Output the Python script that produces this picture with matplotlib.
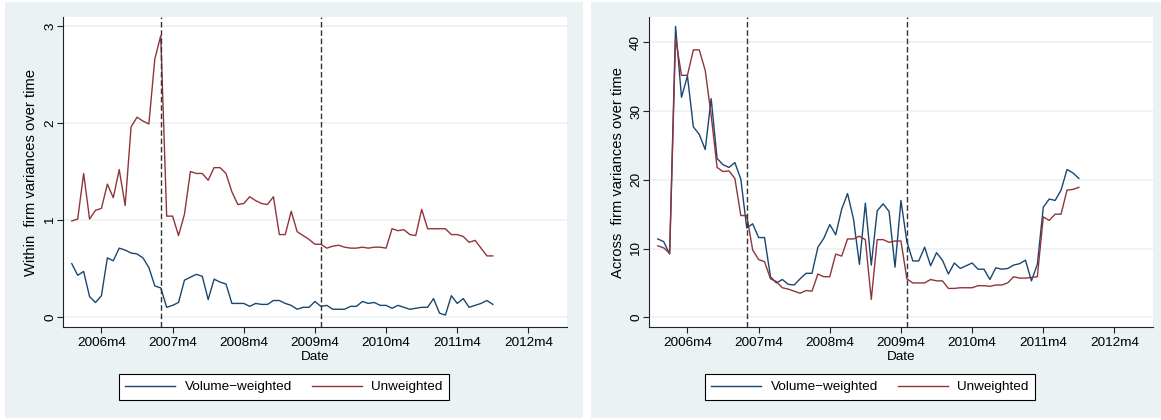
import numpy as np
import matplotlib.pyplot as plt
from matplotlib.patches import Rectangle

plt.rcParams['font.family'] = ['Liberation Sans', 'DejaVu Sans']

# monthly observations, 2005m11 .. 2011m10
months = np.arange(72)
tick_pos = [5, 17, 29, 41, 53, 65, 77]
tick_lab = ['2006m4', '2007m4', '2008m4', '2009m4', '2010m4', '2011m4', '2012m4']
event_months = [15, 42]

within_vw = [0.55, 0.43, 0.47, 0.21, 0.15, 0.22, 0.61, 0.58, 0.71, 0.69, 0.66, 0.65,
             0.61, 0.51, 0.32, 0.30, 0.10, 0.12, 0.15, 0.38, 0.41, 0.44, 0.42, 0.18,
             0.39, 0.36, 0.34, 0.14, 0.14, 0.14, 0.11, 0.14, 0.13, 0.13, 0.17, 0.17,
             0.14, 0.12, 0.08, 0.10, 0.10, 0.16, 0.11, 0.12, 0.08, 0.08, 0.08, 0.11,
             0.11, 0.16, 0.14, 0.15, 0.12, 0.12, 0.09, 0.12, 0.10, 0.08, 0.09, 0.10,
             0.10, 0.19, 0.04, 0.02, 0.22, 0.14, 0.19, 0.10, 0.12, 0.14, 0.17, 0.13]
within_uw = [0.99, 1.01, 1.48, 1.01, 1.10, 1.12, 1.37, 1.23, 1.52, 1.15, 1.96, 2.06,
             2.02, 1.99, 2.66, 2.90, 1.04, 1.04, 0.84, 1.06, 1.50, 1.48, 1.48, 1.41,
             1.54, 1.54, 1.48, 1.29, 1.16, 1.17, 1.24, 1.20, 1.17, 1.16, 1.24, 0.85,
             0.85, 1.09, 0.88, 0.84, 0.80, 0.75, 0.75, 0.71, 0.73, 0.74, 0.72, 0.71,
             0.71, 0.72, 0.71, 0.72, 0.72, 0.71, 0.91, 0.89, 0.90, 0.85, 0.84, 1.11,
             0.91, 0.91, 0.91, 0.91, 0.85, 0.85, 0.83, 0.77, 0.79, 0.71, 0.63, 0.63]
across_vw = [11.4, 11.0, 9.2, 42.3, 32.0, 35.1, 27.7, 26.6, 24.4, 31.8, 23.1, 22.2,
             21.8, 22.5, 20.1, 13.0, 13.6, 11.6, 11.6, 5.9, 5.0, 5.5, 4.8, 4.7,
             5.6, 6.4, 6.4, 10.2, 11.5, 13.5, 12.0, 15.7, 18.0, 14.3, 7.7, 16.6,
             7.6, 15.5, 16.5, 15.4, 7.3, 17.0, 11.0, 8.2, 8.2, 10.2, 7.5, 9.4,
             8.3, 6.3, 7.9, 7.1, 7.5, 7.9, 7.0, 7.0, 5.5, 7.2, 7.0, 7.1,
             7.6, 7.8, 8.3, 5.3, 7.7, 16.0, 17.2, 17.0, 18.5, 21.5, 21.0, 20.2]
across_uw = [10.4, 10.1, 9.3, 40.6, 35.2, 35.2, 38.9, 38.9, 35.9, 29.4, 21.8, 21.2,
             21.3, 20.2, 14.8, 14.8, 9.8, 8.4, 8.1, 5.6, 5.2, 4.3, 4.1, 3.8,
             3.5, 3.9, 3.8, 6.3, 5.9, 5.9, 9.2, 8.9, 11.4, 11.4, 11.8, 11.3,
             2.6, 11.3, 11.3, 10.9, 11.1, 11.1, 5.6, 5.0, 5.0, 5.0, 5.5, 5.3,
             5.3, 4.2, 4.2, 4.3, 4.3, 4.3, 4.6, 4.6, 4.5, 4.7, 4.7, 5.0,
             5.9, 5.7, 5.7, 5.8, 5.9, 14.6, 14.1, 15.0, 15.0, 18.5, 18.6, 18.9]

navy = '#1a476f'
maroon = '#90353b'
bg = '#eaf2f3'
fs = 9.7

W, H = 1161, 420
fig = plt.figure(figsize=(W / 100, H / 100), dpi=100)
fig.patch.set_facecolor('white')

# graph regions (two separate graphs side by side)
for x0, x1 in [(5, 583), (591, 1161)]:
    fig.add_artist(Rectangle((x0 / W, 1 - 418 / H), (x1 - x0) / W, (418 - 2) / H,
                             transform=fig.transFigure, facecolor=bg,
                             edgecolor='none', zorder=0))

panels = [
    dict(left=63, vw=within_vw, uw=within_uw, ylim=(-0.103, 3.093),
         yticks=[0, 1, 2, 3], ylabel='Within  firm variances over time'),
    dict(left=649, vw=across_vw, uw=across_uw, ylim=(-1.41, 43.68),
         yticks=[0, 10, 20, 30, 40], ylabel='Across  firm variances over time'),
]

for p in panels:
    ax = fig.add_axes([p['left'] / W, 1 - 327 / H, 504 / W, 310 / H])
    ax.set_facecolor('white')
    for yt in p['yticks']:
        ax.axhline(yt, color=bg, lw=1.2, zorder=0)
    l1, = ax.plot(months, p['vw'], color=navy, lw=1.0, label='Volume\u2212weighted')
    l2, = ax.plot(months, p['uw'], color=maroon, lw=1.0, label='Unweighted')
    for m in event_months:
        ax.axvline(m, color='#333333', lw=1.0, linestyle=(0, (4, 2)))
    ax.set_xlim(-1.48, 83.5)
    ax.set_ylim(*p['ylim'])
    ax.set_xticks(tick_pos)
    ax.set_xticklabels(tick_lab)
    ax.set_yticks(p['yticks'])
    ax.set_yticklabels([str(v) for v in p['yticks']], rotation=90, va='center')
    ax.tick_params(axis='both', direction='out', length=4, width=0.8,
                   labelsize=fs, color='#222222')
    ax.tick_params(axis='x', pad=3)
    ax.tick_params(axis='y', pad=1)
    for s in ['top', 'right']:
        ax.spines[s].set_visible(False)
    for s in ['left', 'bottom']:
        ax.spines[s].set_color('#222222')
        ax.spines[s].set_linewidth(0.8)
    ax.set_xlabel('Date', fontsize=fs, labelpad=2)
    ax.set_ylabel(p['ylabel'], fontsize=10.6, labelpad=4)

    cx = (p['left'] + 221) / W
    leg = ax.legend(handles=[l1, l2], loc='center', bbox_to_anchor=(cx, 1 - 387 / H),
                    bbox_transform=fig.transFigure, ncol=2, fontsize=fs,
                    frameon=True, fancybox=False, edgecolor='black',
                    facecolor='white', framealpha=1, handlelength=3.7,
                    handletextpad=0.7, columnspacing=1.5, borderpad=0.5)
    leg.get_frame().set_linewidth(0.8)

fig.savefig('out.png', dpi=100, facecolor=fig.get_facecolor())
